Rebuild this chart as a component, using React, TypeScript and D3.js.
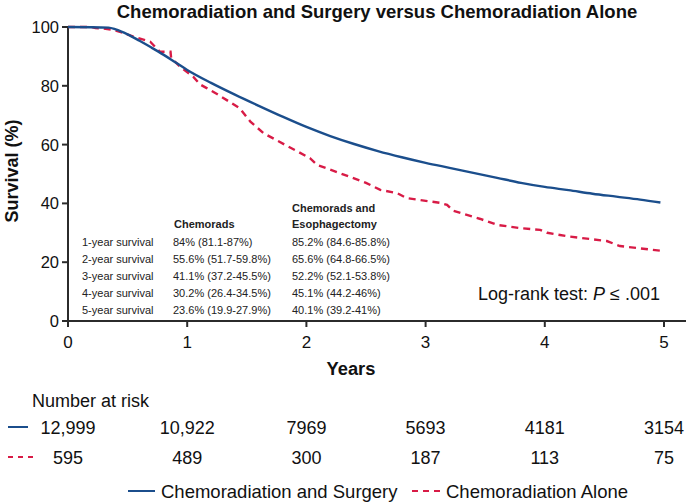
import React from "react";
import * as d3 from "d3";

const title = "Chemoradiation and Surgery versus Chemoradiation Alone";
const xTicks = [0, 1, 2, 3, 4, 5];
const yTicks = [0, 20, 40, 60, 80, 100];

const surgeryT = [0, 0.34, 0.4, 0.5, 0.6, 0.7, 0.8, 0.9, 1.0, 1.2, 1.4, 1.6, 1.8, 2.0, 2.2, 2.4, 2.6, 2.8, 3.0, 3.2, 3.4, 3.6, 3.8, 4.0, 4.2, 4.4, 4.6, 4.8, 4.97];
const surgeryS = [100, 99.8, 99.2, 97.5, 95.3, 93.0, 90.6, 88.0, 85.4, 81.0, 77.0, 73.2, 69.5, 66.0, 62.9, 60.2, 57.8, 55.7, 53.8, 52.1, 50.4, 48.7, 47.0, 45.6, 44.5, 43.3, 42.3, 41.3, 40.3];

const aloneT = [0, 0.2, 0.23, 0.3, 0.38, 0.45, 0.55, 0.69, 0.77, 0.86, 0.865, 0.94, 1.05, 1.107, 1.16, 1.25, 1.44, 1.53, 1.64, 1.84, 2.03, 2.09, 2.28, 2.5, 2.62, 2.76, 2.84, 3.12, 3.18, 3.23, 3.46, 3.6, 3.79, 3.96, 4.02, 4.21, 4.52, 4.63, 4.97];
const aloneS = [100, 100, 99.6, 99.5, 99.0, 98.2, 96.7, 95.0, 91.6, 91.6, 89.5, 86.5, 83.1, 80.5, 79.3, 77.2, 72.4, 67.8, 63.9, 59.5, 55.4, 53.1, 50.3, 47.0, 44.6, 43.5, 41.8, 40.2, 39.5, 37.5, 34.7, 32.7, 31.6, 31.0, 30.0, 28.7, 27.2, 25.5, 23.9];

const riskSurgery = ["12,999", "10,922", "7969", "5693", "4181", "3154"];
const riskAlone = ["595", "489", "300", "187", "113", "75"];

const tableRows = ["1-year survival", "2-year survival", "3-year survival", "4-year survival", "5-year survival"];
const tableChemorads = ["84% (81.1-87%)", "55.6% (51.7-59.8%)", "41.1% (37.2-45.5%)", "30.2% (26.4-34.5%)", "23.6% (19.9-27.9%)"];
const tableEsoph = ["85.2% (84.6-85.8%)", "65.6% (64.8-66.5%)", "52.2% (52.1-53.8%)", "45.1% (44.2-46%)", "40.1% (39.2-41%)"];

const BLUE = "#1b4e8c";
const RED = "#d81b46";
const AXIS = "#2b2b2b";
const FONT = "'Liberation Sans', Arial, Helvetica, sans-serif";

export default function App() {
  const W = 686, H = 502;
  const x = d3.scaleLinear().domain([0, 5]).range([68, 664]);
  const y = d3.scaleLinear().domain([0, 100]).range([321, 27]);
  const blueLine = d3.line<[number, number]>().x(d => x(d[0])).y(d => y(d[1])).curve(d3.curveMonotoneX);
  const redLine = d3.line<[number, number]>().x(d => x(d[0])).y(d => y(d[1])).curve(d3.curveLinear);
  const blueD = blueLine(surgeryT.map((t, i) => [t, surgeryS[i]]));
  const redD = redLine(aloneT.map((t, i) => [t, aloneS[i]]));

  return (
    <svg width={W} height={H} style={{ position: "absolute", left: 0, top: 0, fontFamily: FONT }}>
      <rect width={W} height={H} fill="#fff" />
      <text x={377} y={18} textAnchor="middle" fontSize={18.5} fontWeight="bold" fill="#111">{title}</text>

      {/* y axis */}
      <line x1={x(0)} x2={x(0)} y1={y(100) - 1} y2={y(0)} stroke={AXIS} strokeWidth={2} />
      {yTicks.map(v => (
        <g key={v}>
          <line x1={x(0) - 6} x2={x(0)} y1={y(v)} y2={y(v)} stroke={AXIS} strokeWidth={2} />
          <text x={x(0) - 9} y={y(v) + 6} textAnchor="end" fontSize={16.5} fill="#111">{v}</text>
        </g>
      ))}
      <text transform={`translate(18,${y(50) - 3}) rotate(-90)`} textAnchor="middle" fontSize={18} fontWeight="bold" fill="#111">Survival (%)</text>

      {/* x axis */}
      <line x1={x(0) - 1} x2={686} y1={y(0)} y2={y(0)} stroke={AXIS} strokeWidth={2} />
      {xTicks.map(v => (
        <g key={v}>
          <line x1={x(v)} x2={x(v)} y1={y(0)} y2={y(0) + 6} stroke={AXIS} strokeWidth={2} />
          <text x={x(v)} y={348} textAnchor="middle" fontSize={17} fill="#111">{v}</text>
        </g>
      ))}
      <text x={351} y={375} textAnchor="middle" fontSize={18.3} fontWeight="bold" fill="#111">Years</text>

      {/* curves */}
      <path d={redD ?? ""} fill="none" stroke={RED} strokeWidth={2.4} strokeDasharray="7,5" />
      <path d={blueD ?? ""} fill="none" stroke={BLUE} strokeWidth={2.4} />

      {/* table */}
      <g fontSize={11} fill="#222">
        <text x={292} y={212} fontWeight="bold">Chemorads and</text>
        <text x={174} y={228} fontWeight="bold">Chemorads</text>
        <text x={292} y={228} fontWeight="bold">Esophagectomy</text>
        {tableRows.map((r, i) => (
          <g key={r}>
            <text x={82} y={246 + i * 17}>{r}</text>
            <text x={173} y={246 + i * 17}>{tableChemorads[i]}</text>
            <text x={292} y={246 + i * 17}>{tableEsoph[i]}</text>
          </g>
        ))}
      </g>

      <text x={660} y={300} textAnchor="end" fontSize={18} fill="#111">
        Log-rank test: <tspan fontStyle="italic">P</tspan> ≤ .001
      </text>

      {/* number at risk */}
      <text x={32} y={407} fontSize={18} fill="#111">Number at risk</text>
      <line x1={8} x2={28} y1={427} y2={427} stroke={BLUE} strokeWidth={2} />
      <line x1={8} x2={36} y1={457} y2={457} stroke={RED} strokeWidth={2} strokeDasharray="5,5" />
      {riskSurgery.map((v, i) => (
        <text key={"s" + i} x={i === 5 ? 684 : x(xTicks[i])} y={434} textAnchor={i === 5 ? "end" : "middle"} fontSize={18} fill="#111">{v}</text>
      ))}
      {riskAlone.map((v, i) => (
        <text key={"a" + i} x={x(xTicks[i])} y={464} textAnchor="middle" fontSize={18} fill="#111">{v}</text>
      ))}

      {/* legend */}
      <line x1={128} x2={155} y1={491} y2={491} stroke={BLUE} strokeWidth={2} />
      <text x={161} y={498} fontSize={18.5} fill="#111">Chemoradiation and Surgery</text>
      <line x1={412} x2={440} y1={491} y2={491} stroke={RED} strokeWidth={2} strokeDasharray="6,5" />
      <text x={446} y={498} fontSize={18.5} fill="#111">Chemoradiation Alone</text>
    </svg>
  );
}
